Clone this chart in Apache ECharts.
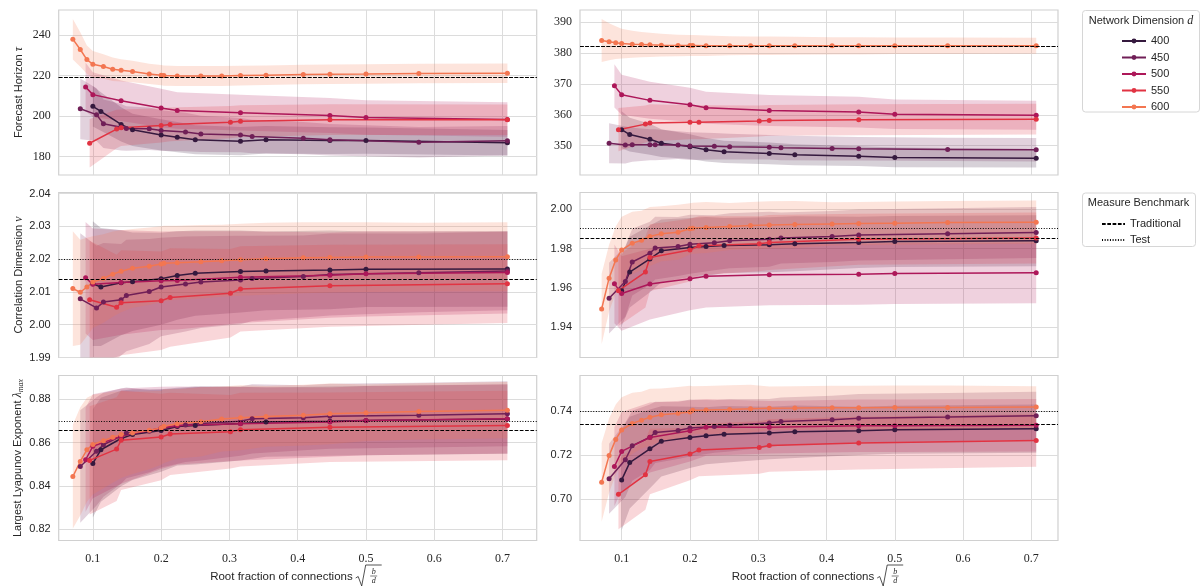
<!DOCTYPE html>
<html><head><meta charset="utf-8">
<script src="https://cdn.jsdelivr.net/npm/echarts@6/dist/echarts.min.js"></script>
<style>html,body{margin:0;padding:0;background:#fff}#c{width:1201px;height:587px}</style>
</head><body><div id="c"></div>
<script>
// ---------- DATA ----------
// x = sqrt(b/d) for the divisors b of each network dimension d
const X400 = [0.1, 0.1118, 0.1414, 0.1581, 0.2, 0.2236, 0.25, 0.3162, 0.3536, 0.4472, 0.5, 0.7071];
const X450 = [0.0816, 0.1054, 0.1155, 0.1414, 0.1491, 0.1826, 0.2, 0.2357, 0.2582, 0.3162, 0.3333, 0.4082, 0.4472, 0.5774, 0.7071];
const X500 = [0.0894, 0.1, 0.1414, 0.2, 0.2236, 0.3162, 0.4472, 0.5, 0.7071];
const X550 = [0.0953, 0.1348, 0.1414, 0.2, 0.2132, 0.3015, 0.3162, 0.4472, 0.7071];
const X600 = [0.0707, 0.0816, 0.0913, 0.1, 0.1155, 0.1291, 0.1414, 0.1581, 0.1826, 0.2, 0.2041, 0.2236, 0.2582, 0.2887, 0.3162, 0.3536, 0.4082, 0.4472, 0.5, 0.5774, 0.7071];

const DIMS = ['400', '450', '500', '550', '600'];
const X_TICKS = [0.1, 0.2, 0.3, 0.4, 0.5, 0.6, 0.7];

// Forecast horizon, left
const FHL_400 = [204.8, 202.3, 195.9, 193.2, 190.7, 189.6, 188.3, 187.6, 188.3, 187.9, 187.9, 186.8];
const FHL_400_SD = [10, 9.5, 8.5, 8, 7.7, 7.5, 7.2, 7, 6.8, 6.6, 6.5, 6.3];
const FHL_450 = [203.6, 200.7, 196.2, 194.5, 193.9, 193.7, 192.9, 192.1, 191.2, 190.6, 189.9, 189.1, 188.3, 187.1, 187.8];
const FHL_450_SD = [15, 13, 12, 11.5, 11, 10.5, 10, 9.5, 9, 8.5, 8.3, 8, 7.8, 7.5, 7.3];
const FHL_500 = [214.4, 210.6, 207.6, 204, 202.8, 201.7, 200.3, 199.3, 198.3];
const FHL_500_SD = [12, 11, 10, 9.5, 9, 8.8, 8.6, 8.5, 8.5];
const FHL_550 = [186.6, 193.6, 194.2, 195.4, 195.9, 197.0, 197.5, 198.2, 198.2];
const FHL_550_SD = [12, 9.5, 9, 8.5, 8.3, 8, 7.8, 7.6, 7.5];
const FHL_600 = [238.0, 232.9, 227.9, 225.6, 224.5, 223.1, 222.6, 222.0, 220.8, 220.2, 220.0, 219.8, 219.8, 219.8, 220.0, 220.2, 220.5, 220.7, 220.8, 221.0, 221.2];
const FHL_600_SD = [10, 8.5, 7, 6.5, 6, 5.8, 5.5, 5.3, 5, 5, 5, 5, 4.9, 4.9, 4.9, 4.8, 4.8, 4.8, 4.8, 4.8, 4.8];
const FHL_REF = [219.1, 219.1]; // traditional, test
const FHL_TICKS = [180, 200, 220, 240];

// Forecast horizon, right
const FHR_400 = [355.2, 353.6, 352.1, 350.8, 349.7, 348.7, 348.0, 347.5, 347.1, 346.6, 346.2, 345.9];
const FHR_400_SD = [6, 5.5, 5, 4.5, 4, 3.8, 3.6, 3.5, 3.4, 3.2, 3.2, 3];
const FHR_450 = [350.8, 350.2, 350.3, 350.3, 350.3, 350.2, 349.9, 349.8, 349.7, 349.5, 349.3, 349.1, 349.0, 348.8, 348.7];
const FHR_450_SD = [6.5, 6, 5.5, 5, 5, 4.5, 4.5, 4.3, 4.2, 4, 4, 3.9, 3.8, 3.8, 3.8];
const FHR_500 = [369.4, 366.5, 364.7, 363.3, 362.3, 361.4, 360.9, 360.2, 359.9];
const FHR_500_SD = [7, 6.5, 6, 5.5, 5.2, 5, 5, 4.8, 4.7];
const FHR_550 = [355.2, 357.0, 357.4, 357.6, 357.6, 358.0, 358.2, 358.4, 358.6];
const FHR_550_SD = [7, 6, 6, 5.5, 5.5, 5, 5, 5, 5];
const FHR_600 = [384.1, 383.7, 383.4, 383.1, 382.9, 382.8, 382.7, 382.6, 382.5, 382.5, 382.5, 382.4, 382.4, 382.4, 382.4, 382.4, 382.4, 382.4, 382.4, 382.4, 382.4];
const FHR_600_SD = [7, 6, 5.3, 4.8, 4.4, 4.1, 3.9, 3.7, 3.5, 3.4, 3.4, 3.3, 3.1, 3, 3, 2.9, 2.8, 2.8, 2.7, 2.7, 2.6];
const FHR_REF = [382.2, 382.2];
const FHR_TICKS = [350, 360, 370, 380, 390];

// Correlation dimension, left
const CDL_400 = [2.0125, 2.0115, 2.0128, 2.0131, 2.0140, 2.0150, 2.0157, 2.0162, 2.0164, 2.0167, 2.0169, 2.0170];
const CDL_400_SD = [0.019, 0.018, 0.016, 0.015, 0.014, 0.0135, 0.013, 0.0125, 0.012, 0.012, 0.0115, 0.0115];
const CDL_450 = [2.0079, 2.0051, 2.0069, 2.0076, 2.0089, 2.0101, 2.0115, 2.0124, 2.0130, 2.0136, 2.0141, 2.0147, 2.0153, 2.0158, 2.0164];
const CDL_450_SD = [0.02, 0.019, 0.018, 0.017, 0.017, 0.016, 0.015, 0.0145, 0.014, 0.0135, 0.013, 0.0125, 0.0125, 0.012, 0.012];
const CDL_500 = [2.0143, 2.0123, 2.0129, 2.0134, 2.0135, 2.0145, 2.0151, 2.0155, 2.0159];
const CDL_500_SD = [0.017, 0.017, 0.016, 0.015, 0.015, 0.014, 0.013, 0.013, 0.0125];
const CDL_550 = [2.0076, 2.0053, 2.0067, 2.0073, 2.0083, 2.0096, 2.0109, 2.0119, 2.0125];
const CDL_550_SD = [0.018, 0.016, 0.016, 0.015, 0.015, 0.0135, 0.013, 0.0125, 0.012];
const CDL_600 = [2.0110, 2.0099, 2.0115, 2.0130, 2.0141, 2.0154, 2.0163, 2.0172, 2.0178, 2.0185, 2.0187, 2.0189, 2.0192, 2.0195, 2.0198, 2.0201, 2.0204, 2.0205, 2.0206, 2.0206, 2.0207];
const CDL_600_SD = [0.0175, 0.016, 0.015, 0.014, 0.0135, 0.013, 0.0125, 0.012, 0.0118, 0.0115, 0.0115, 0.0113, 0.0112, 0.011, 0.011, 0.011, 0.0108, 0.0107, 0.0106, 0.0105, 0.0105];
const CDL_REF = [2.0140, 2.0201];
const CDL_TICKS = [1.99, 2.00, 2.01, 2.02, 2.03, 2.04];

// Correlation dimension, right
const CDR_400 = [1.9585, 1.968, 1.9747, 1.9788, 1.9805, 1.981, 1.9815, 1.9819, 1.9824, 1.9831, 1.9836, 1.9839];
const CDR_400_SD = [0.018, 0.018, 0.017, 0.016, 0.015, 0.015, 0.014, 0.014, 0.014, 0.013, 0.013, 0.013];
const CDR_450 = [1.9547, 1.9632, 1.9731, 1.9776, 1.9802, 1.981, 1.9822, 1.9829, 1.9839, 1.9847, 1.9853, 1.9861, 1.9869, 1.9875, 1.9881];
const CDR_450_SD = [0.018, 0.018, 0.017, 0.016, 0.016, 0.015, 0.015, 0.014, 0.014, 0.014, 0.013, 0.013, 0.013, 0.013, 0.013];
const CDR_500 = [1.962, 1.9571, 1.9619, 1.9646, 1.9659, 1.9666, 1.9669, 1.9673, 1.9676];
const CDR_500_SD = [0.02, 0.019, 0.018, 0.016, 0.016, 0.0155, 0.0155, 0.0155, 0.0155];
const CDR_550 = [1.9585, 1.968, 1.9754, 1.9792, 1.9814, 1.9824, 1.9831, 1.9847, 1.9853];
const CDR_550_SD = [0.018, 0.018, 0.017, 0.016, 0.015, 0.014, 0.014, 0.013, 0.013];
const CDR_600 = [1.9492, 1.9649, 1.9742, 1.9792, 1.9827, 1.9842, 1.9861, 1.9875, 1.9883, 1.99, 1.9903, 1.9907, 1.9912, 1.9917, 1.992, 1.9922, 1.9925, 1.9927, 1.9929, 1.9932, 1.9934];
const CDR_600_SD = [0.018, 0.017, 0.017, 0.017, 0.016, 0.015, 0.015, 0.014, 0.014, 0.013, 0.013, 0.013, 0.012, 0.012, 0.012, 0.012, 0.011, 0.011, 0.011, 0.011, 0.011];
const CDR_REF = [1.9851, 1.9902];
const CDR_TICKS = [1.94, 1.96, 1.98, 2.00];

// Largest Lyapunov exponent, left
const LEL_400 = [0.8504, 0.8567, 0.8619, 0.8637, 0.8656, 0.8674, 0.8679, 0.8688, 0.8695, 0.8699, 0.8702, 0.8709];
const LEL_400_SD = [0.025, 0.024, 0.022, 0.021, 0.019, 0.018, 0.018, 0.017, 0.016, 0.016, 0.016, 0.016];
const LEL_450 = [0.849, 0.856, 0.859, 0.863, 0.8645, 0.8653, 0.8665, 0.8681, 0.8688, 0.8699, 0.871, 0.8715, 0.8722, 0.8727, 0.8733];
const LEL_450_SD = [0.026, 0.025, 0.024, 0.022, 0.021, 0.019, 0.018, 0.017, 0.017, 0.016, 0.016, 0.015, 0.015, 0.015, 0.015];
const LEL_500 = [0.8521, 0.8583, 0.863, 0.8668, 0.8679, 0.8687, 0.8695, 0.8702, 0.871];
const LEL_500_SD = [0.024, 0.024, 0.022, 0.019, 0.018, 0.017, 0.016, 0.016, 0.016];
const LEL_550 = [0.8518, 0.857, 0.8611, 0.8626, 0.864, 0.865, 0.866, 0.8671, 0.8679];
const LEL_550_SD = [0.025, 0.024, 0.023, 0.02, 0.019, 0.017, 0.017, 0.016, 0.016];
const LEL_600 = [0.8443, 0.8513, 0.8567, 0.8591, 0.8609, 0.8625, 0.8637, 0.8645, 0.8657, 0.8668, 0.8676, 0.8687, 0.8696, 0.8709, 0.8715, 0.8721, 0.8727, 0.8733, 0.8738, 0.8744, 0.875];
const LEL_600_SD = [0.024, 0.025, 0.024, 0.023, 0.022, 0.021, 0.02, 0.019, 0.018, 0.017, 0.017, 0.016, 0.016, 0.015, 0.015, 0.014, 0.014, 0.014, 0.013, 0.013, 0.013];
const LEL_REF = [0.8659, 0.8699];
const LEL_TICKS = [0.82, 0.84, 0.86, 0.88];

// Largest Lyapunov exponent, right
const LER_400 = [0.7087, 0.7166, 0.7229, 0.7263, 0.7281, 0.7289, 0.7295, 0.7301, 0.7307, 0.7311, 0.7316, 0.7321];
const LER_400_SD = [0.023, 0.021, 0.018, 0.016, 0.014, 0.013, 0.013, 0.012, 0.012, 0.011, 0.011, 0.011];
const LER_450 = [0.7092, 0.7179, 0.7243, 0.7282, 0.7304, 0.7313, 0.7324, 0.7331, 0.7337, 0.7347, 0.7354, 0.7362, 0.7369, 0.7374, 0.738];
const LER_450_SD = [0.016, 0.017, 0.016, 0.015, 0.014, 0.013, 0.013, 0.012, 0.012, 0.011, 0.011, 0.011, 0.011, 0.011, 0.011];
const LER_500 = [0.7148, 0.7217, 0.7281, 0.7311, 0.7327, 0.7328, 0.7334, 0.7334, 0.7337];
const LER_500_SD = [0.018, 0.018, 0.016, 0.014, 0.013, 0.012, 0.012, 0.012, 0.012];
const LER_550 = [0.7021, 0.711, 0.7171, 0.7205, 0.7224, 0.7235, 0.7244, 0.7255, 0.7267];
const LER_550_SD = [0.016, 0.016, 0.015, 0.012, 0.012, 0.012, 0.012, 0.012, 0.012];
const LER_600 = [0.7076, 0.7198, 0.7272, 0.7315, 0.7345, 0.736, 0.7373, 0.7385, 0.7391, 0.7397, 0.7405, 0.7406, 0.7409, 0.7412, 0.7414, 0.7415, 0.7417, 0.7417, 0.7418, 0.7418, 0.742];
const LER_600_SD = [0.018, 0.017, 0.016, 0.015, 0.014, 0.013, 0.013, 0.012, 0.012, 0.012, 0.011, 0.011, 0.011, 0.011, 0.01, 0.01, 0.01, 0.01, 0.01, 0.01, 0.0095];
const LER_REF = [0.7342, 0.7400];
const LER_TICKS = [0.70, 0.72, 0.74];

// ---------- STYLE / LAYOUT ----------
const COLORS = ['#35193e', '#701f57', '#ad1759', '#e13342', '#f37651'];
const XS = [X400, X450, X500, X550, X600];
const TXT = '#262626';
const SANS = 'Liberation Sans';
const SERIF = 'Liberation Serif';
const GL = [58.7, 580], GW = 478, GT = [10, 192.5, 375.5], GH = 165;
const XMIN = [0.05, 0.039], XMAX = [0.75, 0.739];

const panels = [
  {row: 0, col: 0, ymin: 170.9, ymax: 252.4, ticks: FHL_TICKS, dec: 0, serif: true,
   means: [FHL_400, FHL_450, FHL_500, FHL_550, FHL_600], sds: [FHL_400_SD, FHL_450_SD, FHL_500_SD, FHL_550_SD, FHL_600_SD], ref: FHL_REF,
   name: '{t|Forecast Horizon }{m|τ}'},
  {row: 0, col: 1, ymin: 340.5, ymax: 394, ticks: FHR_TICKS, dec: 0, serif: true,
   means: [FHR_400, FHR_450, FHR_500, FHR_550, FHR_600], sds: [FHR_400_SD, FHR_450_SD, FHR_500_SD, FHR_550_SD, FHR_600_SD], ref: FHR_REF},
  {row: 1, col: 0, ymin: 1.99, ymax: 2.0403, ticks: CDL_TICKS, dec: 2, serif: false,
   means: [CDL_400, CDL_450, CDL_500, CDL_550, CDL_600], sds: [CDL_400_SD, CDL_450_SD, CDL_500_SD, CDL_550_SD, CDL_600_SD], ref: CDL_REF,
   name: '{t|Correlation Dimension }{m|ν}'},
  {row: 1, col: 1, ymin: 1.9245, ymax: 2.0085, ticks: CDR_TICKS, dec: 2, serif: false,
   means: [CDR_400, CDR_450, CDR_500, CDR_550, CDR_600], sds: [CDR_400_SD, CDR_450_SD, CDR_500_SD, CDR_550_SD, CDR_600_SD], ref: CDR_REF},
  {row: 2, col: 0, ymin: 0.8148, ymax: 0.891, ticks: LEL_TICKS, dec: 2, serif: false,
   means: [LEL_400, LEL_450, LEL_500, LEL_550, LEL_600], sds: [LEL_400_SD, LEL_450_SD, LEL_500_SD, LEL_550_SD, LEL_600_SD], ref: LEL_REF,
   name: '{t|Largest Lyapunov Exponent }{m|λ}{s|max}'},
  {row: 2, col: 1, ymin: 0.681, ymax: 0.7564, ticks: LER_TICKS, dec: 2, serif: false,
   means: [LER_400, LER_450, LER_500, LER_550, LER_600], sds: [LER_400_SD, LER_450_SD, LER_500_SD, LER_550_SD, LER_600_SD], ref: LER_REF}
];

function rgba(hex, a) {
  const n = parseInt(hex.slice(1), 16);
  return 'rgba(' + (n >> 16) + ',' + ((n >> 8) & 255) + ',' + (n & 255) + ',' + a + ')';
}

function bandRender(pts, color) {
  return function (params, api) {
    if (params.dataIndex !== 0) return null;
    const up = pts.map(p => api.coord([p[0], p[2]]));
    const dn = pts.map(p => api.coord([p[0], p[1]])).reverse();
    const cs = params.coordSys;
    return {
      type: 'polygon',
      shape: {points: up.concat(dn)},
      style: {fill: rgba(color, 0.2), stroke: null},
      clipPath: {type: 'rect', shape: {x: cs.x, y: cs.y, width: cs.width, height: cs.height}}
    };
  };
}

const grids = [], xAxes = [], yAxes = [], series = [];
panels.forEach((p, i) => {
  grids.push({left: GL[p.col], top: GT[p.row], width: GW, height: GH, show: true,
    borderColor: '#d0d0d0', borderWidth: 1.2, backgroundColor: 'rgba(0,0,0,0)'});
  xAxes.push({gridIndex: i, type: 'value', min: XMIN[p.col], max: XMAX[p.col],
    axisLine: {show: false}, axisTick: {show: false, customValues: X_TICKS},
    axisLabel: {show: p.row === 2, customValues: X_TICKS, formatter: v => v.toFixed(1),
      fontFamily: SERIF, fontSize: 12, color: TXT, margin: 12},
    splitLine: {show: true, lineStyle: {color: '#dcdcdc', width: 1}}});
  const ya = {gridIndex: i, type: 'value', min: p.ymin, max: p.ymax,
    axisLine: {show: false}, axisTick: {show: false, customValues: p.ticks},
    axisLabel: {customValues: p.ticks, formatter: v => v.toFixed(p.dec),
      fontFamily: p.serif ? SERIF : SANS, fontSize: p.serif ? 12 : 11, color: TXT, margin: 8},
    splitLine: {show: true, lineStyle: {color: '#dcdcdc', width: 1}}};
  if (p.name) {
    ya.name = p.name; ya.nameLocation = 'middle'; ya.nameRotate = 90; ya.nameGap = 34;
    ya.nameTextStyle = {rich: {
      t: {fontFamily: SANS, fontSize: 11, color: TXT},
      m: {fontFamily: SERIF, fontStyle: 'italic', fontSize: 12, color: TXT},
      s: {fontFamily: SERIF, fontStyle: 'italic', fontSize: 8, color: TXT, padding: [6, 0, 0, 0]}
    }};
  }
  yAxes.push(ya);
  // bands
  p.means.forEach((m, k) => {
    const pts = XS[k].map((x, j) => [x, m[j] - p.sds[k][j], m[j] + p.sds[k][j]]);
    series.push({type: 'custom', name: 'band' + DIMS[k], xAxisIndex: i, yAxisIndex: i, silent: true, z: 1,
      renderItem: bandRender(pts, COLORS[k]), data: pts, encode: {x: 0, y: [1, 2]}});
  });
  // lines
  p.means.forEach((m, k) => {
    series.push({type: 'line', name: DIMS[k], xAxisIndex: i, yAxisIndex: i, z: 3,
      data: XS[k].map((x, j) => [x, m[j]]),
      symbol: 'circle', symbolSize: 5, showSymbol: true,
      lineStyle: {color: COLORS[k], width: 1.5}, itemStyle: {color: COLORS[k]}});
  });
  // benchmarks
  [['Traditional', [3.7, 1.6]], ['Test', [1, 1.65]]].forEach((r, k) => {
    series.push({type: 'line', name: r[0], xAxisIndex: i, yAxisIndex: i, z: 4, data: [], symbol: 'none',
      lineStyle: {color: '#000', width: 1.1, type: r[1]}, itemStyle: {color: '#000'},
      markLine: {silent: true, symbol: 'none', precision: 6, label: {show: false},
        lineStyle: {color: '#000', width: 1.1, type: r[1]},
        data: [{yAxis: p.ref[k]}]}});
  });
});

function xName(cx) {
  const y = 577;
  return {type: 'group', children: [
    {type: 'text', x: cx + 55, y: y, style: {text: 'Root fraction of connections', fontFamily: SANS, fontSize: 11.5, fill: TXT, align: 'right', verticalAlign: 'middle'}},
    {type: 'polyline', shape: {points: [[cx + 58, y + 1], [cx + 60.5, y - 0.5], [cx + 64, y + 9], [cx + 68, y - 12], [cx + 84, y - 12]]}, style: {stroke: TXT, lineWidth: 0.8, fill: null}},
    {type: 'text', x: cx + 76, y: y - 5.5, style: {text: 'b', fontFamily: SERIF, fontStyle: 'italic', fontSize: 8, fill: TXT, align: 'center', verticalAlign: 'middle'}},
    {type: 'line', shape: {x1: cx + 72.5, y1: y - 1, x2: cx + 79.5, y2: y - 1}, style: {stroke: TXT, lineWidth: 0.6}},
    {type: 'text', x: cx + 76, y: y + 4, style: {text: 'd', fontFamily: SERIF, fontStyle: 'italic', fontSize: 8, fill: TXT, align: 'center', verticalAlign: 'middle'}}
  ]};
}

const graphic = [
  {type: 'rect', shape: {x: 1082.5, y: 10.5, width: 117, height: 101.5, r: 3}, style: {fill: '#fff', stroke: '#d6d6d6', lineWidth: 1}, z: -1},
  {type: 'text', x: 1141, y: 21, style: {text: '{t|Network Dimension }{m|d}', rich: {t: {fontFamily: SANS, fontSize: 11, fill: TXT}, m: {fontFamily: SERIF, fontStyle: 'italic', fontSize: 12, fill: TXT}}, align: 'center', verticalAlign: 'middle'}},
  {type: 'rect', shape: {x: 1082.5, y: 193, width: 113, height: 53.5, r: 3}, style: {fill: '#fff', stroke: '#d6d6d6', lineWidth: 1}, z: -1},
  {type: 'text', x: 1138.5, y: 203, style: {text: 'Measure Benchmark', fontFamily: SANS, fontSize: 11, fill: TXT, align: 'center', verticalAlign: 'middle'}},
  xName(297.7), xName(819.2)
];

const NOSYM = {color: 'rgba(0,0,0,0)', borderWidth: 0, opacity: 0};
const chart = echarts.init(document.getElementById('c'), null, {renderer: 'canvas'});
chart.setOption({
  animation: false,
  backgroundColor: '#ffffff',
  grid: grids, xAxis: xAxes, yAxis: yAxes, series: series,
  legend: [
    {data: DIMS, orient: 'vertical', left: 1116, top: 30, itemWidth: 24, itemHeight: 6, itemGap: 4.5,
      textStyle: {fontFamily: SANS, fontSize: 11, color: TXT, lineHeight: 12}, selectedMode: false},
    {data: [{name: 'Traditional', itemStyle: NOSYM}, {name: 'Test', itemStyle: NOSYM}],
      orient: 'vertical', left: 1096, top: 213, itemWidth: 23, itemHeight: 6, itemGap: 4,
      textStyle: {fontFamily: SANS, fontSize: 11, color: TXT, lineHeight: 12}, selectedMode: false}
  ],
  graphic: graphic
});
</script>
</body></html>
